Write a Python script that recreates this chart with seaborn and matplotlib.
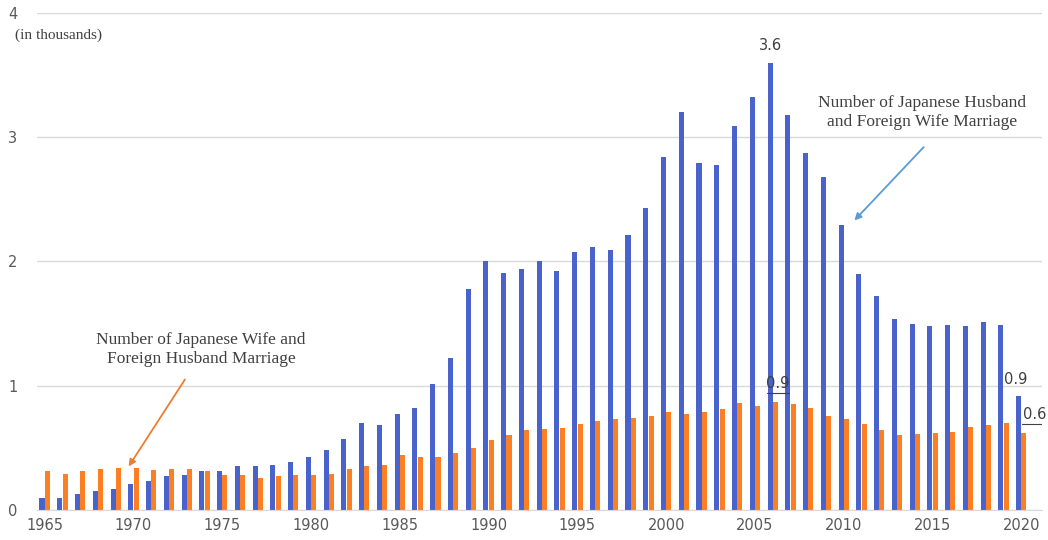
import numpy as np
import pandas as pd
import matplotlib.pyplot as plt
import seaborn as sns

years = list(range(1965, 2021))
jp_husband = [0.10, 0.10, 0.13, 0.15, 0.17, 0.21, 0.23, 0.27, 0.28, 0.31,
              0.31, 0.35, 0.35, 0.36, 0.39, 0.43, 0.48, 0.57, 0.70, 0.68,
              0.77, 0.82, 1.01, 1.22, 1.78, 2.00, 1.91, 1.94, 2.00, 1.92,
              2.08, 2.12, 2.09, 2.21, 2.43, 2.84, 3.20, 2.79, 2.78, 3.09,
              3.32, 3.60, 3.18, 2.87, 2.68, 2.29, 1.90, 1.72, 1.54, 1.50,
              1.48, 1.49, 1.48, 1.51, 1.49, 0.92]
jp_wife = [0.31, 0.29, 0.31, 0.33, 0.34, 0.34, 0.32, 0.33, 0.33, 0.31,
           0.28, 0.28, 0.26, 0.27, 0.28, 0.28, 0.29, 0.33, 0.35, 0.36,
           0.44, 0.43, 0.43, 0.46, 0.50, 0.56, 0.60, 0.64, 0.65, 0.66,
           0.69, 0.72, 0.73, 0.74, 0.76, 0.79, 0.77, 0.79, 0.81, 0.86,
           0.84, 0.87, 0.85, 0.82, 0.76, 0.73, 0.69, 0.64, 0.60, 0.61,
           0.62, 0.63, 0.67, 0.68, 0.70, 0.62]
series = ["Japanese Husband and Foreign Wife", "Japanese Wife and Foreign Husband"]
colors = ["#4a63cc", "#fd7f23"]

df = pd.DataFrame({
    "year": years * 2,
    "value": jp_husband + jp_wife,
    "series": [series[0]] * len(years) + [series[1]] * len(years),
})

sns.set_style("white")
plt.rcParams['font.family'] = ['DejaVu Sans']

fig = plt.figure(figsize=(10.48, 5.40), dpi=100)
ax = fig.add_axes([0.035, 0.0556, 0.959, 0.9204])

sns.barplot(data=df, x="year", y="value", hue="series", palette=colors,
            saturation=1, width=0.6, gap=0.05, linewidth=0, dodge=True,
            legend=False, ax=ax)

ax.set_ylim(0, 4)
ax.set_xlim(-0.45, len(years) - 1 + 1.15)
ax.set_yticks([0, 1, 2, 3, 4])
ax.set_yticklabels(["0", "1", "2", "3", "4"])
tick_idx = [i for i, y in enumerate(years) if y % 5 == 0]
ax.set_xticks(tick_idx)
ax.set_xticklabels([str(years[i]) for i in tick_idx])
ax.tick_params(axis="both", length=0, labelsize=10.5, colors="#595959")
ax.tick_params(axis="y", pad=14)
ax.tick_params(axis="x", pad=6)
ax.set_xlabel("")
ax.set_ylabel("")
ax.yaxis.grid(True, color="#d9d9d9", linewidth=1)
ax.set_axisbelow(True)
for s in ["top", "right", "left"]:
    ax.spines[s].set_visible(False)
ax.spines["bottom"].set_color("#d9d9d9")

fig.text(0.014, 0.928, "(in thousands)", fontsize=11,
         family="Liberation Serif", color="#404040")

off = 0.14
i06 = years.index(2006)
i20 = years.index(2020)
ax.text(i06 - off, jp_husband[i06] + 0.08, f"{jp_husband[i06]:.1f}", ha="center",
        va="bottom", fontsize=10.5, color="#404040")
ax.text(i06 + off + 0.15, jp_wife[i06] + 0.09, f"{jp_wife[i06]:.1f}", ha="center",
        va="bottom", fontsize=10.5, color="#404040")
ax.plot([i06 + off - 0.45, i06 + off + 0.8], [jp_wife[i06] + 0.07] * 2,
        color="#404040", lw=0.8)
ax.text(i20 - 1.0, jp_husband[i20] + 0.07, f"{jp_husband[i20]:.1f}",
        ha="left", va="bottom", fontsize=10.5, color="#404040")
ax.text(i20 + 0.1, jp_wife[i20] + 0.09, f"{jp_wife[i20]:.1f}",
        ha="left", va="bottom", fontsize=10.5, color="#404040")
ax.plot([i20 + 0.05, i20 + 1.3], [jp_wife[i20] + 0.075] * 2,
        color="#404040", lw=0.8)

ax.text(years.index(2014) + 0.4, 3.2,
        "Number of Japanese Husband\nand Foreign Wife Marriage",
        ha="center", va="center", fontsize=12.5, family="Liberation Serif",
        color="#404040")
ax.annotate("", xy=(years.index(2010) + 0.6, 2.33), xytext=(years.index(2014) + 0.5, 2.92),
            arrowprops=dict(arrowstyle="-|>", color="#5b9bd5", lw=1.3,
                            shrinkA=0, shrinkB=0, mutation_scale=10))
ax.text(years.index(1974) - 0.2, 1.29,
        "Number of Japanese Wife and\nForeign Husband Marriage",
        ha="center", va="center", fontsize=12.5, family="Liberation Serif",
        color="#404040")
ax.annotate("", xy=(years.index(1969) + 0.73, 0.35), xytext=(years.index(1972) + 0.9, 1.05),
            arrowprops=dict(arrowstyle="-|>", color="#ed7d31", lw=1.3,
                            shrinkA=0, shrinkB=0, mutation_scale=10))

fig.savefig("out.png", dpi=100)
